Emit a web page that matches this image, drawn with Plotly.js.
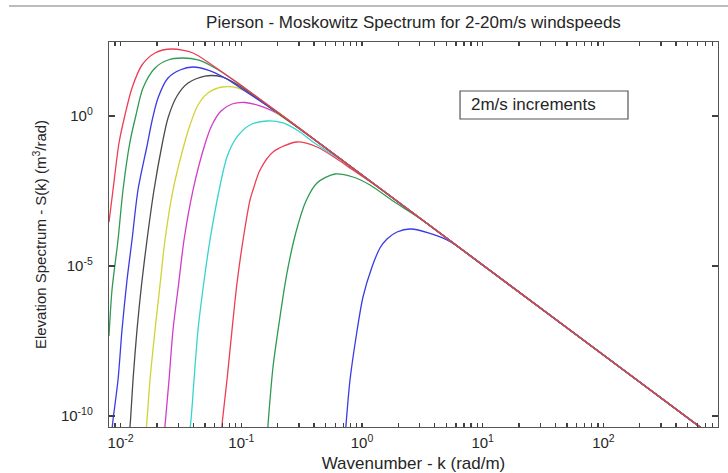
<!DOCTYPE html>
<html>
<head>
<meta charset="utf-8">
<script src="https://cdn.plot.ly/plotly-3.0.1.min.js"></script>
<style>
html,body{margin:0;padding:0;background:#ffffff;}
#wrap{position:relative;width:728px;height:473px;}
#chart{width:728px;height:473px;}
#frameline{position:absolute;left:9px;right:0;top:5px;height:0;border-top:2px solid #bcbcbc;z-index:10;}
</style>
</head>
<body>
<div id="wrap">
<div id="chart"></div>
<div id="frameline"></div>
</div>
<script>
// Wind speeds (m/s), one curve each
const windSpeeds = [2, 4, 6, 8, 10, 12, 14, 16, 18, 20];

// Wavenumber k (rad/m) and spectrum S(k) (m^3/rad)
const kU2  = [0.73, 0.737, 0.7954, 0.9038, 1.019, 1.21, 1.409, 1.611, 1.95, 2.547, 5.06, 10, 100, 1000];
const sU2  = [2.93e-11, 5.01e-11, 1.58e-9, 5.85e-8, 9.26e-7, 9.26e-6, 3.98e-5, 7.94e-5, 1.36e-4, 1.71e-4, 7.36e-5, 1.06e-5, 1.08e-8, 1.08e-11];

const kU4  = [0.1649, 0.1664, 0.1831, 0.2092, 0.239, 0.2839, 0.3436, 0.4238, 0.5975, 0.8422, 1.165, 1.806, 3, 5, 10, 100, 1000];
const sU4  = [2.93e-11, 5.01e-11, 4.3e-9, 2.0e-7, 5.85e-6, 1.36e-4, 1.47e-3, 5.85e-3, 1.166e-2, 9.26e-3, 5.0e-3, 1.47e-3, 3.9e-4, 8.64e-5, 1.08e-5, 1.08e-8, 1.08e-11];

const kU6  = [0.06855, 0.06986, 0.07609, 0.08375, 0.09213, 0.1043, 0.118, 0.125, 0.1429, 0.1831, 0.2893, 0.4238, 0.6207, 0.8422, 1.5, 2, 10, 100, 1000];
const sU6  = [2.93e-11, 7.36e-11, 1.58e-9, 7.36e-8, 2.71e-6, 9.26e-5, 1.58e-3, 3.41e-3, 0.0158, 0.063, 0.136, 0.0926, 0.0369, 0.0158, 0.0032, 0.00134, 1.08e-5, 1.08e-8, 1.08e-11];

const kU8  = [0.03723, 0.03831, 0.04057, 0.04378, 0.04862, 0.05502, 0.0666, 0.07609, 0.09213, 0.118, 0.1633, 0.2216, 0.3064, 0.3927, 0.7, 1, 10, 100, 1000];
const sU8  = [2.93e-11, 7.36e-11, 1.58e-9, 7.36e-8, 2.33e-6, 7.36e-5, 4.64e-3, 0.043, 0.2, 0.501, 0.681, 0.585, 0.293, 0.136, 0.0305, 0.0108, 1.08e-5, 1.08e-8, 1.08e-11];

const kU10 = [0.0231, 0.02355, 0.02518, 0.02717, 0.03018, 0.03352, 0.0398, 0.05004, 0.05716, 0.06788, 0.08375, 0.1073, 0.1513, 0.2092, 0.2893, 0.5, 1, 10, 100, 1000];
const sU10 = [2.93e-11, 7.36e-11, 1.58e-9, 7.36e-8, 2.33e-6, 7.36e-5, 3.41e-3, 0.117, 0.501, 1.47, 2.51, 2.82, 2.0, 1.08, 0.43, 0.085, 0.0108, 1.08e-5, 1.08e-8, 1.08e-11];

const kU12 = [0.01623, 0.01655, 0.01752, 0.01928, 0.02121, 0.02332, 0.02717, 0.03352, 0.03758, 0.04378, 0.05297, 0.0692, 0.09391, 0.1227, 0.2, 0.3, 0.5, 1, 10, 100, 1000];
const sU12 = [2.93e-11, 7.36e-11, 1.58e-9, 7.36e-8, 2.33e-6, 7.36e-5, 3.41e-3, 0.108, 0.501, 2.33, 5.84, 9.26, 8.58, 5.01, 1.2, 0.385, 0.0864, 0.0108, 1.08e-5, 1.08e-8, 1.08e-11];

const kU14 = [0.01185, 0.01208, 0.01267, 0.01367, 0.0149, 0.01655, 0.01891, 0.02203, 0.0247, 0.02933, 0.03618, 0.05004, 0.0692, 0.09391, 0.2, 0.5, 1, 10, 100, 1000];
const sU14 = [2.93e-11, 7.36e-11, 1.58e-9, 7.36e-8, 2.33e-6, 7.36e-5, 3.41e-3, 0.108, 0.858, 4.64, 12.6, 21.5, 20, 10.8, 1.25, 0.0864, 0.0108, 1.08e-5, 1.08e-8, 1.08e-11];

const kU16 = [0.008486, 0.00865, 0.009517, 0.01027, 0.0113, 0.01243, 0.01393, 0.01655, 0.0182, 0.02041, 0.0247, 0.03105, 0.0398, 0.05297, 0.07328, 0.1073, 0.2, 0.5, 1, 10, 100, 1000];
const sU16 = [3.41e-11, 7.36e-11, 1.58e-9, 7.36e-8, 3.41e-6, 7.36e-5, 3.41e-3, 0.1, 0.681, 3.98, 18.5, 34.1, 43, 34.1, 18.5, 6.81, 1.3, 0.0864, 0.0108, 1.08e-5, 1.08e-8, 1.08e-11];

const kU18 = [0.008014, 0.008486, 0.009517, 0.01047, 0.01196, 0.01341, 0.01533, 0.01928, 0.0247, 0.03226, 0.04378, 0.06053, 0.08867, 0.2, 0.5, 1, 10, 100, 1000];
const sU18 = [4.64e-8, 1.58e-6, 7.36e-5, 3.41e-3, 0.136, 1.08, 8.58, 39.8, 73.6, 85.8, 73.6, 39.8, 14.7, 1.33, 0.0864, 0.0108, 1.08e-5, 1.08e-8, 1.08e-11];

const kU20 = [0.008014, 0.00865, 0.009699, 0.01087, 0.01243, 0.01504, 0.01928, 0.02666, 0.0398, 0.05716, 0.08375, 0.118, 0.2, 0.5, 1, 10, 100, 1000];
const sU20 = [2.93e-4, 3.41e-3, 0.126, 1.08, 8.58, 50.1, 126, 171, 126, 50.1, 17.1, 6.31, 1.35, 0.0864, 0.0108, 1.08e-5, 1.08e-8, 1.08e-11];

// Axis ticks
const xTickVals = [0.01, 0.1, 1, 10, 100];
const xTickText = ['10<sup>-2</sup>', '10<sup>-1</sup>', '10<sup>0</sup>', '10<sup>1</sup>', '10<sup>2</sup>'];
const xMinorVals = [0.009,
  0.02, 0.03, 0.04, 0.05, 0.06, 0.07, 0.08, 0.09,
  0.2, 0.3, 0.4, 0.5, 0.6, 0.7, 0.8, 0.9,
  2, 3, 4, 5, 6, 7, 8, 9,
  20, 30, 40, 50, 60, 70, 80, 90,
  200, 300, 400, 500, 600, 700, 800, 900];
const yTickVals = [1e-10, 1e-5, 1];
const yTickText = ['10<sup>-10</sup>', '10<sup>-5</sup>', '10<sup>0</sup>'];

const titleText = 'Pierson - Moskowitz Spectrum for 2-20m/s windspeeds';
const xTitleText = 'Wavenumber - k (rad/m)';
const yTitleText = 'Elevation Spectrum - S(k) (m<sup>3</sup>/rad)';
const noteText = '2m/s increments';

// Styles (MATLAB classic colour order b g r c m y k)
const lineColors = ['#3a3ae6', '#2e9a52', '#ee3c52', '#35d4cf', '#d23cc8', '#d2d234', '#4a4a4a', '#3a3ae6', '#2e9a52', '#ee3c52'];

const kSeries = [kU2, kU4, kU6, kU8, kU10, kU12, kU14, kU16, kU18, kU20];
const sSeries = [sU2, sU4, sU6, sU8, sU10, sU12, sU14, sU16, sU18, sU20];

const traces = windSpeeds.map((u, i) => ({
  type: 'scatter',
  mode: 'lines',
  name: u + ' m/s',
  x: kSeries[i],
  y: sSeries[i],
  line: {color: lineColors[i], width: 1.3, shape: 'spline', smoothing: 0.8},
  hoverinfo: 'skip'
}));

// Major + minor tick positions on the x axis (labels only on decades)
const xAllVals = xTickVals.concat(xMinorVals);
const xAllText = xTickText.concat(xMinorVals.map(() => ''));

const font = 'Liberation Sans, Arial, sans-serif';
const axisColor = '#555555';
const tickColor = '#404040';
const textColor = '#262626';
const xRange = [Math.log10(0.008014), 2.9495];

const layout = {
  width: 728,
  height: 473,
  margin: {l: 109, r: 10, t: 42, b: 46},
  paper_bgcolor: '#ffffff',
  plot_bgcolor: '#ffffff',
  showlegend: false,
  font: {family: font, color: textColor, size: 15},
  title: {
    text: titleText,
    font: {family: font, size: 17, color: textColor},
    xref: 'paper', x: 0.5, xanchor: 'center',
    yref: 'container', y: 1 - 22 / 473, yanchor: 'middle'
  },
  xaxis: {
    type: 'log',
    range: xRange,
    tickmode: 'array',
    tickvals: xAllVals,
    ticktext: xAllText,
    ticks: 'inside',
    ticklen: 4,
    tickwidth: 1.3,
    tickcolor: tickColor,
    showline: true,
    linecolor: axisColor,
    linewidth: 1.2,
    mirror: 'allticks',
    showgrid: false,
    zeroline: false,
    tickfont: {family: font, size: 15, color: textColor},
    ticklabelstandoff: 2,
    title: {text: xTitleText, font: {family: font, size: 17, color: textColor}, standoff: 6},
    automargin: false
  },
  yaxis: {
    type: 'log',
    range: [(116 - 427) / 30, (116 - 42) / 30],
    tickmode: 'array',
    tickvals: yTickVals,
    ticktext: yTickText,
    ticks: 'inside',
    ticklen: 6,
    tickwidth: 1.3,
    tickcolor: tickColor,
    showline: true,
    linecolor: axisColor,
    linewidth: 1.2,
    mirror: 'allticks',
    showgrid: false,
    zeroline: false,
    tickfont: {family: font, size: 15, color: textColor},
    ticklabelstandoff: 12,
    title: {text: yTitleText, font: {family: font, size: 15, color: textColor}, standoff: 10},
    automargin: false
  },
  shapes: [
    {type: 'rect', xref: 'paper', yref: 'paper', x0: 0.5764, x1: 0.8522, y0: 0.80, y1: 0.8727,
     line: {color: axisColor, width: 1.2}, fillcolor: 'rgba(0,0,0,0)'}
  ],
  annotations: [
    {text: noteText, xref: 'paper', yref: 'paper', x: 0.5911, y: 0.8364,
     xanchor: 'left', yanchor: 'middle', showarrow: false,
     font: {family: font, size: 17, color: textColor}}
  ]
};

Plotly.newPlot('chart', traces, layout, {displayModeBar: false, staticPlot: true});
</script>
</body>
</html>
